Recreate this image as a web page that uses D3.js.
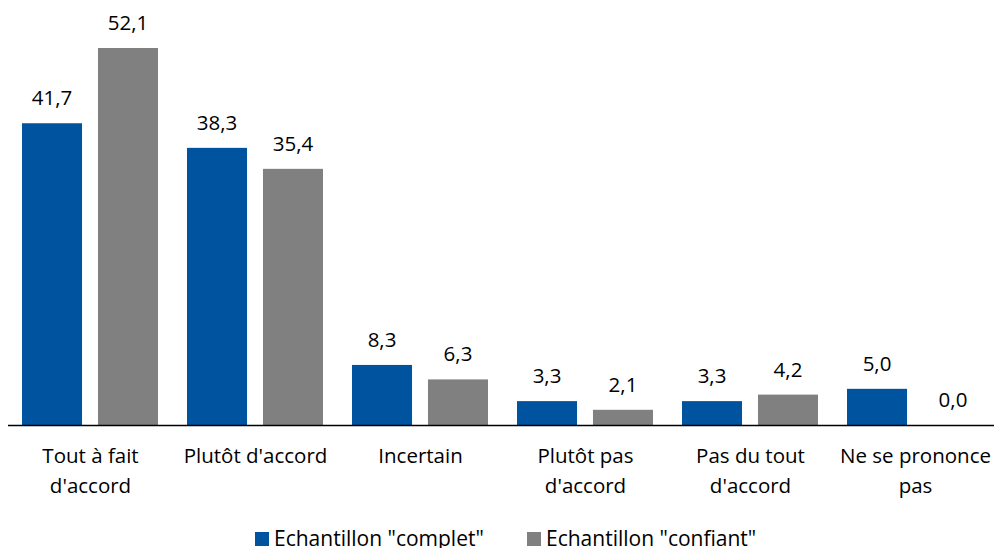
<!DOCTYPE html>
<html>
<head>
<meta charset="utf-8">
<script src="https://cdn.jsdelivr.net/npm/d3@7"></script>
<style>
  body { margin: 0; background: #fff; }
  text { font-family: "Open Sans", sans-serif; fill: #000; }
</style>
</head>
<body>
<div id="chart"></div>
<script>
// données
const categories = ["Tout à fait d'accord", "Plutôt d'accord", "Incertain", "Plutôt pas d'accord", "Pas du tout d'accord", "Ne se prononce pas"];
const categoryLines = [["Tout à fait", "d'accord"], ["Plutôt d'accord"], ["Incertain"], ["Plutôt pas", "d'accord"], ["Pas du tout", "d'accord"], ["Ne se prononce", "pas"]];
const complet = [41.7, 38.3, 8.3, 3.3, 3.3, 5.0];
const confiant = [52.1, 35.4, 6.3, 2.1, 4.2, 0.0];
const keys = ['Echantillon "complet"', 'Echantillon "confiant"'];
const colors = ["#00539f", "#808080"];

const W = 994, H = 548;
const baseY = 425;
const fontSize = "20.5px";

const data = categories.map((c, i) => ({ cat: c, lines: categoryLines[i], values: [complet[i], confiant[i]] }));

const svg = d3.select("#chart").append("svg")
    .attr("width", W).attr("height", H);

const x0 = d3.scaleBand().domain(categories).range([8, 998]);
const x1 = d3.scaleBand().domain(keys).range([14, 150]).paddingInner(0.21);
const y = d3.scaleLinear().domain([0, 52.1]).range([baseY, 48]);
const color = d3.scaleOrdinal().domain(keys).range(colors);

const groups = svg.append("g").selectAll("g")
    .data(data).join("g")
    .attr("transform", d => `translate(${x0(d.cat)},0)`);

const cells = groups.selectAll("g")
    .data(d => keys.map((k, j) => ({ key: k, value: d.values[j] })))
    .join("g");

cells.append("rect")
    .attr("x", d => x1(d.key))
    .attr("y", d => y(d.value))
    .attr("width", x1.bandwidth())
    .attr("height", d => baseY - y(d.value))
    .attr("fill", d => color(d.key));

cells.append("text")
    .attr("x", d => x1(d.key) + x1.bandwidth() / 2)
    .attr("y", d => y(d.value) - 18)
    .attr("text-anchor", "middle")
    .style("font-size", fontSize)
    .text(d => d3.format(".1f")(d.value).replace(".", ","));

// axe horizontal
const axis = svg.append("g")
    .attr("transform", `translate(0,${baseY})`)
    .call(d3.axisBottom(x0).tickSize(0).tickFormat(""));
axis.select(".domain").attr("stroke", "#000").attr("stroke-width", 1.5)
    .attr("d", `M8,0.5H994`);

axis.selectAll(".tick text").remove();
axis.selectAll(".tick").each(function(c, i) {
    const t = d3.select(this).append("text")
        .attr("text-anchor", "middle")
        .style("font-size", fontSize);
    categoryLines[i].forEach((line, k) => {
        t.append("tspan").attr("x", 0).attr("y", 38 + k * 30).text(line);
    });
});

// légende
const legend = svg.append("g").attr("transform", `translate(0,532)`);
const legendX = [255, 527];
keys.forEach((k, i) => {
    legend.append("rect")
        .attr("x", legendX[i]).attr("y", 0)
        .attr("width", 14).attr("height", 14)
        .attr("fill", color(k));
    legend.append("text")
        .attr("x", legendX[i] + 19).attr("y", 14)
        .style("font-size", "21px")
        .text(k);
});
</script>
</body>
</html>
